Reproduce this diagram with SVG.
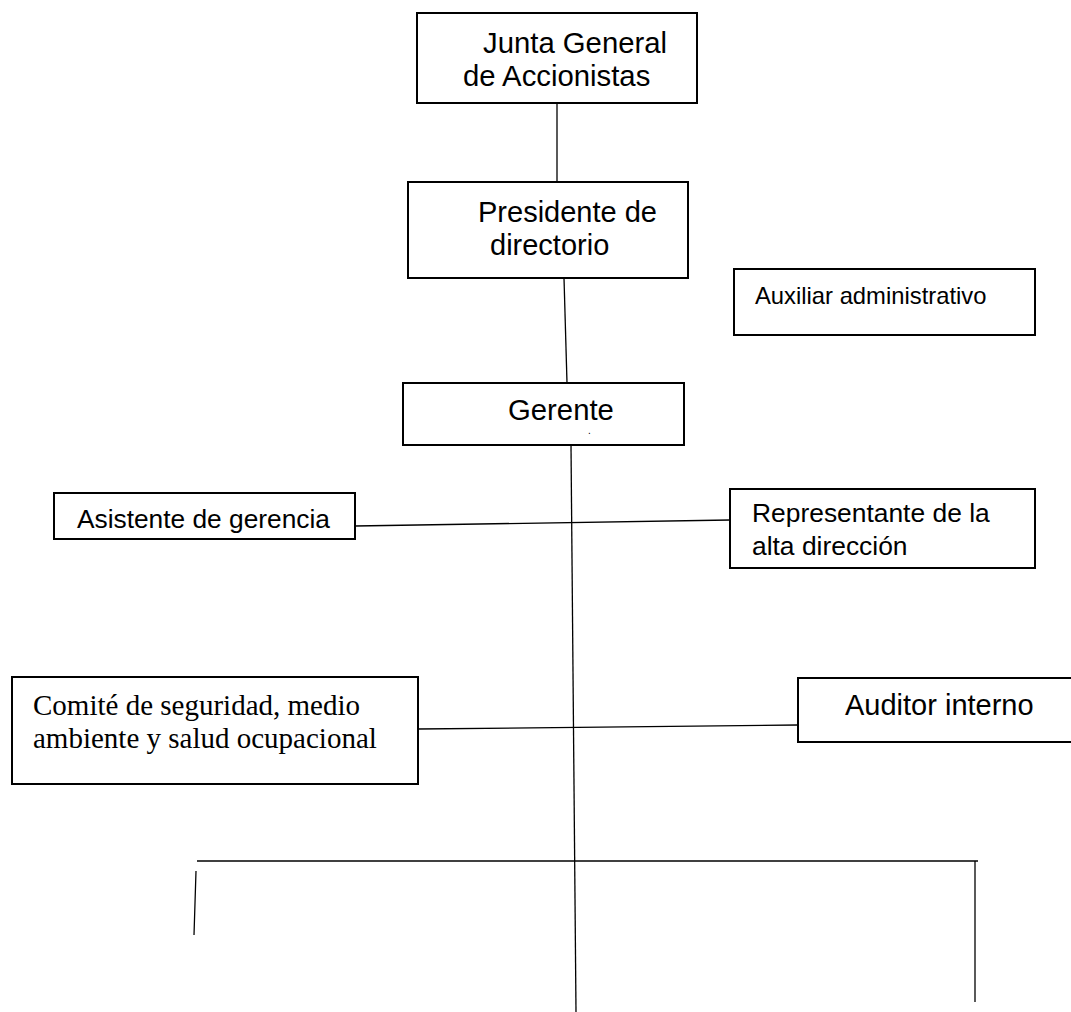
<svg xmlns="http://www.w3.org/2000/svg" width="1071" height="1012" viewBox="0 0 1071 1012">
<style>
.box{fill:#fff;stroke:#000;stroke-width:2}
.ln{stroke:#000;stroke-width:1.3;fill:none}
.t{font-family:"Liberation Sans",Arial,sans-serif;fill:#000}
.s{font-family:"Liberation Serif","Times New Roman",serif;fill:#000}
</style>
<rect width="1071" height="1012" fill="#fff"/>
<g id="connectors">
<line class="ln" x1="557" y1="103" x2="557" y2="182"/>
<line class="ln" x1="564" y1="278" x2="567" y2="383"/>
<line class="ln" x1="571" y1="445" x2="576" y2="1012"/>
<line class="ln" x1="355" y1="526" x2="730" y2="520"/>
<line class="ln" x1="418" y1="729" x2="798" y2="725"/>
<line class="ln" x1="197" y1="861" x2="978" y2="861"/>
<line class="ln" x1="196" y1="871" x2="194" y2="935"/>
<line class="ln" x1="975" y1="861" x2="975" y2="1002"/>
</g>
<g id="junta">
<rect class="box" x="417" y="13" width="280" height="90"/>
<text class="t" font-size="29.3"><tspan x="483" y="53">Junta General</tspan><tspan x="463" y="86">de Accionistas</tspan></text>
</g>
<g id="presidente">
<rect class="box" x="408" y="182" width="280" height="96"/>
<text class="t" font-size="29"><tspan x="478" y="222">Presidente de</tspan><tspan x="490" y="255">directorio</tspan></text>
</g>
<g id="auxiliar">
<rect class="box" x="734" y="269" width="301" height="66"/>
<text class="t" x="755" y="304" font-size="23.8">Auxiliar administrativo</text>
</g>
<g id="gerente">
<rect class="box" x="403" y="383" width="281" height="62"/>
<text class="t" x="508" y="420" font-size="29.3">Gerente</text>
<text class="t" x="588" y="434" font-size="10">.</text>
</g>
<g id="asistente">
<rect class="box" x="54" y="493" width="301" height="46"/>
<text class="t" x="77" y="528" font-size="26.3">Asistente de gerencia</text>
</g>
<g id="representante">
<rect class="box" x="730" y="489" width="305" height="79"/>
<text class="t" font-size="26.4"><tspan x="752" y="522">Representante de la</tspan><tspan x="752" y="555">alta dirección</tspan></text>
</g>
<g id="comite">
<rect class="box" x="12" y="677" width="406" height="107"/>
<text class="s" font-size="29"><tspan x="33" y="715">Comité de seguridad, medio</tspan><tspan x="33" y="748">ambiente y salud ocupacional</tspan></text>
</g>
<g id="auditor">
<rect class="box" x="798" y="678" width="280" height="64"/>
<text class="t" x="845" y="715" font-size="29">Auditor interno</text>
</g>
</svg>
